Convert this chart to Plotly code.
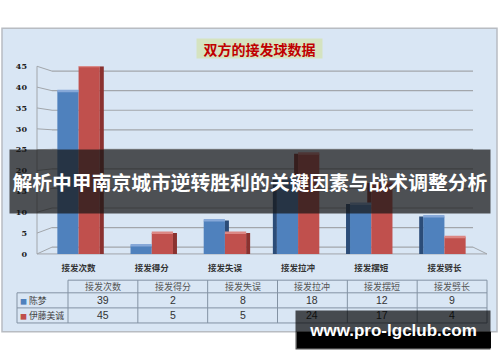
import plotly.graph_objects as go

# ---------------- data ----------------
categories = ["接发次数", "接发得分", "接发失误", "接发拉冲", "接发摆短", "接发劈长"]
players = ["陈梦", "伊藤美诚"]
chen_meng = [39, 2, 8, 18, 12, 9]
ito_mima = [45, 5, 5, 24, 17, 4]
y_ticks = [0, 5, 10, 15, 20, 25, 30, 35, 40, 45]
chart_title = "双方的接发球数据"
banner_text = "解析中甲南京城市逆转胜利的关键因素与战术调整分析"
watermark_text = "www.pro-lgclub.com"

# ---------------- layout helpers ----------------
W, H = 500, 362
def px(x):
    return x / W
def py(y):
    return 1 - y / H

BLUE, RED = "#4f81bd", "#c0504d"
BLUE_SIDE, RED_SIDE = "#2b4c78", "#8a3230"
BLUE_TOP, RED_TOP = "#86a8d8", "#dc8784"
YMAX = 45
FRONT = (256, 63)   # pixel rows of 0 and YMAX on the front (bars / labels)
BACK = (249, 68)    # pixel rows of 0 and YMAX on the back wall
def yf(v):
    return FRONT[0] + (FRONT[1] - FRONT[0]) * v / YMAX
def yb(v):
    return BACK[0] + (BACK[1] - BACK[0]) * v / YMAX

BARGAP = 0.42
HALF = (1 - BARGAP) / 2

fig = go.Figure()
fig.add_bar(x=list(range(len(categories))), y=chen_meng, name=players[0],
            marker=dict(color=BLUE, line_width=0), hoverinfo="skip")
fig.add_bar(x=list(range(len(categories))), y=ito_mima, name=players[1],
            marker=dict(color=RED, line_width=0), hoverinfo="skip")

shapes = []
# chart panel
shapes.append(dict(type="rect", xref="paper", yref="paper", layer="below",
                   x0=px(2), x1=px(497), y0=py(336), y1=py(24),
                   fillcolor="#d9e6f4", line=dict(color="#b8bcc2", width=1.5)))
GRID = "#a2a6ab"
for v in y_ticks:
    shapes.append(dict(type="line", xref="paper", yref="paper", layer="below",
                       x0=px(52), x1=px(473), y0=py(yb(v)), y1=py(yb(v)),
                       line=dict(color=GRID, width=1.2)))
    shapes.append(dict(type="line", xref="paper", yref="paper", layer="below",
                       x0=px(37), x1=px(52), y0=py(yf(v)), y1=py(yb(v)),
                       line=dict(color=GRID, width=1)))
shapes.append(dict(type="line", xref="paper", yref="paper", layer="below",
                   x0=px(37), x1=px(37), y0=py(yf(0)), y1=py(yf(YMAX)),
                   line=dict(color=GRID, width=1)))
shapes.append(dict(type="line", xref="paper", yref="paper", layer="below",
                   x0=px(37), x1=px(487), y0=py(yf(0)), y1=py(yf(0)),
                   line=dict(color=GRID, width=1)))
shapes.append(dict(type="line", xref="paper", yref="paper", layer="below",
                   x0=px(473), x1=px(487), y0=py(yb(0)), y1=py(yf(0)),
                   line=dict(color=GRID, width=1)))

# 3D side / top faces of bars
n = len(categories)
for i in range(n):
    b, r = chen_meng[i], ito_mima[i]
    if i < n / 2:
        shapes.append(dict(type="rect", xref="x", yref="y", xsizemode="pixel", xanchor=i + HALF,
                           x0=0, x1=4, y0=0, y1=r, fillcolor=RED_SIDE, line_width=0, layer="above"))
        if b > r:
            shapes.append(dict(type="rect", xref="x", yref="y", xsizemode="pixel", xanchor=i,
                               x0=0, x1=4, y0=r, y1=b, fillcolor=BLUE_SIDE, line_width=0, layer="above"))
    else:
        shapes.append(dict(type="rect", xref="x", yref="y", xsizemode="pixel", xanchor=i - HALF,
                           x0=-4, x1=0, y0=0, y1=b, fillcolor=BLUE_SIDE, line_width=0, layer="above"))
        if r > b:
            shapes.append(dict(type="rect", xref="x", yref="y", xsizemode="pixel", xanchor=i,
                               x0=-4, x1=0, y0=b, y1=r, fillcolor=RED_SIDE, line_width=0, layer="above"))
    shapes.append(dict(type="rect", xref="x", yref="y", ysizemode="pixel", yanchor=b,
                       x0=i - HALF, x1=i, y0=-1, y1=1.5, fillcolor=BLUE_TOP, line_width=0, layer="above"))
    shapes.append(dict(type="rect", xref="x", yref="y", ysizemode="pixel", yanchor=r,
                       x0=i, x1=i + HALF, y0=-1, y1=1.5, fillcolor=RED_TOP, line_width=0, layer="above"))

# ---------------- data table ----------------
TL = "#8392a3"
col_x = [68 + k * (487 - 68) / n for k in range(n + 1)]
row_y = [283, 296, 311.5, 327]
shapes.append(dict(type="line", xref="paper", yref="paper", x0=px(col_x[0]), x1=px(col_x[-1]),
                   y0=py(row_y[0]), y1=py(row_y[0]), line=dict(color=TL, width=1)))
for ry in row_y[1:]:
    shapes.append(dict(type="line", xref="paper", yref="paper", x0=px(17), x1=px(col_x[-1]),
                       y0=py(ry), y1=py(ry), line=dict(color=TL, width=1)))
shapes.append(dict(type="line", xref="paper", yref="paper", x0=px(17), x1=px(17),
                   y0=py(row_y[1]), y1=py(row_y[-1]), line=dict(color=TL, width=1)))
for cx in col_x:
    shapes.append(dict(type="line", xref="paper", yref="paper", x0=px(cx), x1=px(cx),
                       y0=py(row_y[0]), y1=py(row_y[-1]), line=dict(color=TL, width=1)))

# watermark solid part (below panel)
shapes.append(dict(type="rect", xref="paper", yref="paper", layer="above",
                   x0=px(297), x1=px(491), y0=py(353), y1=py(336),
                   fillcolor="#050505", line_width=0))

ann = []
CJK = "Noto Sans CJK SC"
C = dict(xanchor="center", yanchor="middle", showarrow=False, xref="paper", yref="paper")
ann.append(dict(text=chart_title, x=px(259.5), y=py(44.5),
                bgcolor="#d5e3c0", width=125, height=19, borderpad=0,
                font=dict(family=CJK, size=14, color="#c00000", weight="bold"), **C))
for k, c in enumerate(categories):
    cx = (col_x[k] + col_x[k + 1]) / 2
    ann.append(dict(text=c, x=px(cx), y=py((row_y[0] + row_y[1]) / 2),
                    font=dict(family=CJK, size=9, color="#555"), **C))
    ann.append(dict(text=str(chen_meng[k]), x=px(cx), y=py((row_y[1] + row_y[2]) / 2),
                    font=dict(family="Liberation Sans", size=10.5, color="#333"), **C))
    ann.append(dict(text=str(ito_mima[k]), x=px(cx), y=py((row_y[2] + row_y[3]) / 2),
                    font=dict(family="Liberation Sans", size=10.5, color="#333"), **C))
for j, (p, col) in enumerate(zip(players, [BLUE, RED])):
    ann.append(dict(text=f'<span style="color:{col};font-size:7px">■</span> {p}',
                    xref="paper", yref="paper", x=px(18), xanchor="left", yanchor="middle",
                    y=py((row_y[1 + j] + row_y[2 + j]) / 2), showarrow=False,
                    font=dict(family=CJK, size=8.8, color="#444")))

# overlay banner
ann.append(dict(text=banner_text, x=px(250), y=py(181.5),
                width=480, height=63, borderpad=0, bgcolor="rgba(22,22,22,0.72)",
                font=dict(family=CJK, size=19.8, color="white", weight="bold"), **C))
# watermark
ann.append(dict(text=watermark_text, x=px(393), y=py(334),
                width=194, height=38, borderpad=0, bgcolor="rgba(0,0,0,0.68)",
                font=dict(family="Liberation Sans", size=17, color="white", weight="bold"), **C))

fig.update_layout(
    width=W, height=H, margin=dict(l=0, r=0, t=0, b=0),
    paper_bgcolor="white", plot_bgcolor="rgba(0,0,0,0)",
    barmode="group", bargap=BARGAP, bargroupgap=0, showlegend=False,
    xaxis=dict(domain=[px(42), px(481)], range=[-0.5, n - 0.5], showgrid=False, zeroline=False,
               showline=False, ticks="", tickmode="array", tickvals=list(range(n)),
               ticktext=categories, ticklabelstandoff=8,
               tickfont=dict(family=CJK, size=8.5, color="#333", weight="bold")),
    yaxis=dict(domain=[py(FRONT[0]), py(FRONT[1])], range=[0, YMAX], showgrid=False,
               zeroline=False, showline=False, ticks="", tickmode="array", tickvals=y_ticks,
               ticklabelstandoff=14,
               tickfont=dict(family="DejaVu Serif", size=8, color="#222", weight="bold")),
    shapes=shapes, annotations=ann,
)

fig.write_html("out.html")
